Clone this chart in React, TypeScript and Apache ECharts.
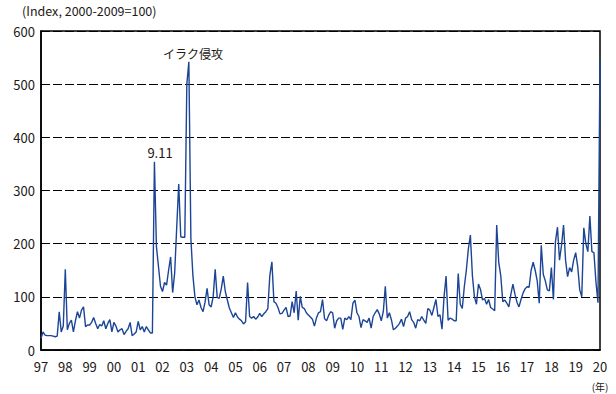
import React, { useEffect, useRef } from "react";
import * as echarts from "echarts";

// Monthly index values, Jan 1997 .. Jan 2020 (Index, 2000-2009=100)
const y1997 = [22, 34, 28, 27, 27, 27, 26, 25, 26, 72, 34, 45];
const y1998 = [152, 38, 50, 56, 34, 55, 72, 60, 75, 81, 44, 47];
const y1999 = [47, 52, 61, 50, 40, 48, 45, 55, 40, 50, 57, 34];
const y2000 = [52, 45, 34, 38, 40, 29, 35, 40, 52, 27, 30, 34];
const y2001 = [54, 38, 44, 34, 44, 38, 32, 32, 354, 194, 157, 120];
const y2002 = [110, 127, 122, 150, 175, 108, 145, 230, 312, 213, 212, 212];
const y2003 = [500, 542, 210, 140, 100, 85, 94, 80, 72, 90, 116, 85];
const y2004 = [81, 100, 152, 99, 97, 115, 139, 110, 94, 79, 70, 61];
const y2005 = [70, 62, 58, 55, 49, 53, 127, 63, 60, 63, 58, 62];
const y2006 = [69, 63, 68, 72, 78, 141, 166, 91, 88, 80, 68, 69];
const y2007 = [75, 80, 63, 64, 91, 70, 111, 56, 101, 80, 78, 70];
const y2008 = [66, 62, 58, 45, 60, 70, 72, 95, 59, 55, 65, 72];
const y2009 = [70, 41, 55, 60, 60, 39, 60, 57, 63, 57, 88, 94];
const y2010 = [70, 63, 42, 57, 55, 52, 60, 41, 63, 70, 76, 68];
const y2011 = [55, 72, 120, 60, 70, 57, 38, 41, 45, 50, 58, 44];
const y2012 = [60, 63, 72, 57, 52, 41, 57, 55, 63, 56, 50, 78];
const y2013 = [75, 65, 80, 95, 63, 66, 39, 100, 139, 56, 60, 58];
const y2014 = [55, 55, 144, 86, 78, 119, 150, 190, 216, 140, 100, 86];
const y2015 = [124, 114, 94, 97, 86, 95, 80, 77, 74, 235, 165, 140];
const y2016 = [91, 94, 88, 81, 105, 124, 105, 90, 81, 95, 107, 115];
const y2017 = [119, 118, 150, 165, 150, 130, 88, 197, 142, 130, 113, 111];
const y2018 = [155, 95, 204, 231, 169, 197, 235, 169, 138, 155, 147, 169];
const y2019 = [183, 157, 113, 100, 230, 200, 185, 252, 185, 183, 128, 89];
const y2020 = [545];

const years = [
  y1997, y1998, y1999, y2000, y2001, y2002, y2003, y2004, y2005, y2006, y2007, y2008,
  y2009, y2010, y2011, y2012, y2013, y2014, y2015, y2016, y2017, y2018, y2019, y2020,
];
const startYear = 1997;

const yTicks = [0, 100, 200, 300, 400, 500, 600];
const titleText = "(Index, 2000-2009=100)";
const unitText = "(年)";
const note911 = "9.11";
const noteIraq = "イラク侵攻";

export default function App() {
  const ref = useRef<HTMLDivElement>(null);
  useEffect(() => {
    if (!ref.current) return;
    const chart = echarts.init(ref.current, null, { renderer: "svg" });
    const data: [number, number][] = [];
    years.forEach((arr, yi) => {
      arr.forEach((v, m) => data.push([startYear + yi + m / 12, v]));
    });
    const font = "'Noto Sans CJK JP', 'Noto Sans', sans-serif";
    const textColor = "#231815";
    chart.setOption({
      animation: false,
      backgroundColor: "#fff",
      grid: {
        left: 41,
        right: 16,
        top: 31,
        bottom: 44,
        show: true,
        borderColor: "#000",
        borderWidth: 1.5,
      },
      xAxis: {
        type: "value",
        min: 1997,
        max: 2020,
        interval: 1,
        axisLine: { show: true, lineStyle: { color: "#000", width: 1.5 } },
        axisTick: { show: false },
        splitLine: { show: false },
        axisLabel: {
          color: textColor,
          fontFamily: font,
          fontSize: 13,
          margin: 10,
          showMinLabel: true,
          showMaxLabel: true,
          formatter: (v: number) => String(Math.round(v) % 100).padStart(2, "0"),
        },
      },
      yAxis: {
        type: "value",
        min: yTicks[0],
        max: yTicks[yTicks.length - 1],
        interval: 100,
        axisLine: { show: true, lineStyle: { color: "#000", width: 1.5 } },
        axisTick: { show: false },
        splitLine: {
          show: true,
          lineStyle: { color: "#000", width: 1.2, type: [9, 3] },
        },
        axisLabel: {
          color: textColor,
          fontFamily: font,
          fontSize: 13,
          margin: 6,
        },
      },
      graphic: [
        {
          type: "text",
          left: 22,
          top: 4,
          style: { text: titleText, fill: textColor, font: `12.5px ${font}` },
        },
        {
          type: "text",
          x: 600,
          y: 386,
          style: {
            text: unitText,
            fill: textColor,
            font: `10px ${font}`,
            align: "center",
            verticalAlign: "middle",
          },
        },
        {
          type: "text",
          x: 160,
          y: 152,
          style: {
            text: note911,
            fill: textColor,
            font: `13px ${font}`,
            align: "center",
            verticalAlign: "middle",
          },
        },
        {
          type: "text",
          x: 193,
          y: 53,
          style: {
            text: noteIraq,
            fill: textColor,
            font: `12px ${font}`,
            align: "center",
            verticalAlign: "middle",
          },
        },
      ],
      series: [
        {
          type: "line",
          data,
          showSymbol: false,
          symbol: "none",
          clip: false,
          lineStyle: { color: "#1c4596", width: 1.4 },
          z: 5,
        },
      ],
    });
    return () => chart.dispose();
  }, []);
  return (
    <div
      ref={ref}
      style={{ position: "fixed", left: 0, top: 0, width: 616, height: 394 }}
    />
  );
}
